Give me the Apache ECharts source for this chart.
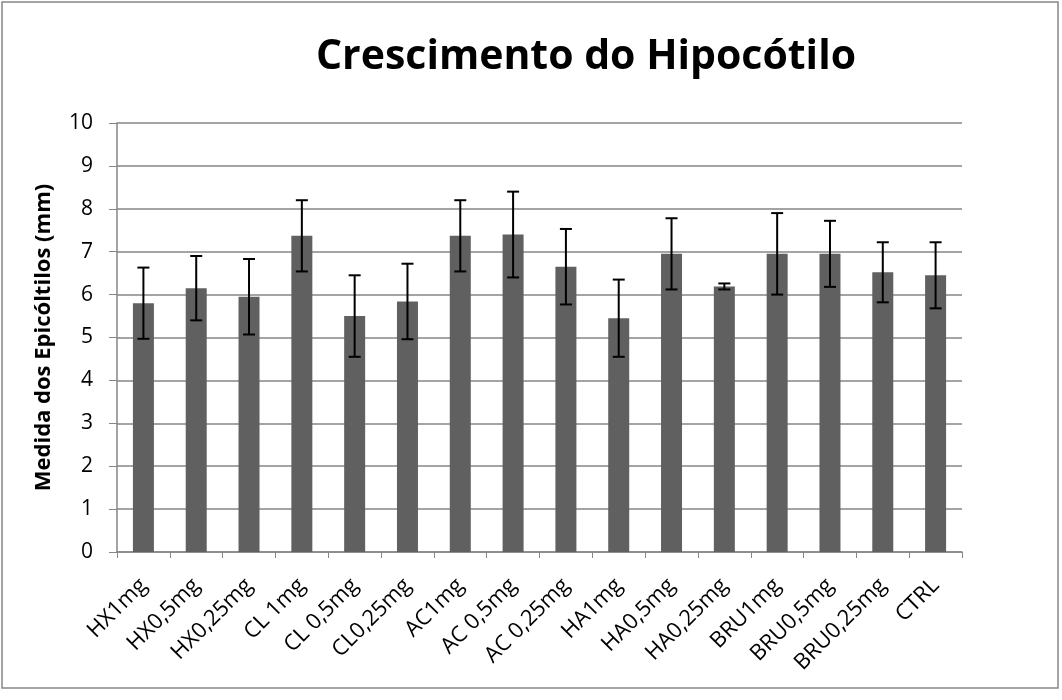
<!DOCTYPE html>
<html>
<head>
<meta charset="utf-8">
<script src="https://cdn.jsdelivr.net/npm/echarts@6/dist/echarts.min.js"></script>
<style>
  html, body { margin: 0; padding: 0; background: #fff; }
  #chart { width: 1062px; height: 700px; }
</style>
</head>
<body>
<div id="chart"></div>
<script>
const categories = ['HX1mg', 'HX0,5mg', 'HX0,25mg', 'CL 1mg', 'CL 0,5mg', 'CL0,25mg', 'AC1mg', 'AC 0,5mg',
    'AC 0,25mg', 'HA1mg', 'HA0,5mg', 'HA0,25mg', 'BRU1mg', 'BRU0,5mg', 'BRU0,25mg', 'CTRL']
const means = [5.80, 6.15, 5.95, 7.37, 5.50, 5.84, 7.37, 7.40, 6.65, 5.45, 6.95, 6.19, 6.95, 6.95, 6.52, 6.45]
const errors = [0.83, 0.75, 0.88, 0.83, 0.95, 0.88, 0.83, 1.00, 0.88, 0.90, 0.83, 0.07, 0.95, 0.77, 0.70, 0.77]
const yTicks = { min: 0, max: 10, interval: 1 }

const font = 'Open Sans'
const chart = echarts.init(document.getElementById('chart'))

// [index, low, high] for the error bars
const errData = means.map((m, i) => [i, m - errors[i], m + errors[i]])

chart.setOption({
    animation: false,
    title: {
        text: 'Crescimento do Hipocótilo',
        left: 581,
        top: 32,
        textAlign: 'center',
        textStyle: { fontFamily: font, fontSize: 41, fontWeight: 'bold', color: '#000' }
    },
    grid: { left: 117, right: 100, top: 123, bottom: 148 },
    xAxis: {
        type: 'category',
        data: categories,
        axisLine: { lineStyle: { color: '#868686', width: 1.5 } },
        axisTick: { show: true, length: 6, lineStyle: { color: '#868686' } },
        axisLabel: { rotate: 45, fontFamily: font, fontSize: 22, color: '#000', margin: 30, interval: 0 }
    },
    yAxis: {
        type: 'value',
        min: yTicks.min,
        max: yTicks.max,
        interval: yTicks.interval,
        name: 'Medida dos Epicóltilos (mm)',
        nameLocation: 'middle',
        nameGap: 62,
        nameTextStyle: { fontFamily: font, fontSize: 22, fontWeight: 'bold', color: '#000' },
        axisLine: { show: true, lineStyle: { color: '#868686', width: 1.5 } },
        axisTick: { show: true, length: 8, lineStyle: { color: '#868686' } },
        axisLabel: { fontFamily: font, fontSize: 21, color: '#000', margin: 24 },
        splitLine: { lineStyle: { color: '#868686', width: 1.5 } }
    },
    series: [
        {
            type: 'bar',
            data: means,
            barWidth: 21,
            itemStyle: { color: '#606060' }
        },
        {
            type: 'custom',
            data: errData,
            z: 10,
            renderItem: (params, api) => {
                const x = api.value(0)
                const lo = api.coord([x, api.value(1)])
                const hi = api.coord([x, api.value(2)])
                const half = 6
                const style = { stroke: '#000', lineWidth: 2 }
                return {
                    type: 'group',
                    children: [
                        { type: 'line', shape: { x1: lo[0], y1: lo[1], x2: hi[0], y2: hi[1] }, style },
                        { type: 'line', shape: { x1: lo[0] - half, y1: lo[1], x2: lo[0] + half, y2: lo[1] }, style },
                        { type: 'line', shape: { x1: hi[0] - half, y1: hi[1], x2: hi[0] + half, y2: hi[1] }, style }
                    ]
                }
            }
        }
    ],
    graphic: [{
        type: 'rect',
        shape: { x: 2, y: 2, width: 1056, height: 686 },
        style: { fill: 'none', stroke: '#868686', lineWidth: 1.5 },
        silent: true
    }]
})
</script>
</body>
</html>
